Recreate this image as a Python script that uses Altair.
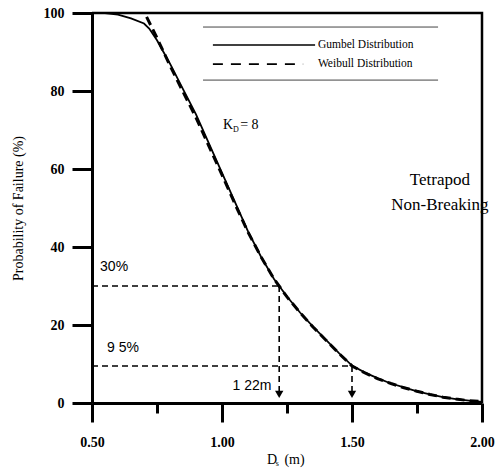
import altair as alt
import pandas as pd

# Curves
d_gumbel = [0.50, 0.55, 0.60, 0.65, 0.70, 0.72, 0.75, 0.80, 0.85, 0.90, 0.95, 1.00, 1.05, 1.10, 1.15,
            1.20, 1.22, 1.25, 1.30, 1.35, 1.40, 1.45, 1.50, 1.55, 1.60, 1.65, 1.70, 1.75, 1.80,
            1.85, 1.90, 1.95, 2.00]
p_gumbel = [100, 100, 99.6, 98.6, 97.3, 96.0, 93.0, 87.0, 80.5, 74.0, 66.5, 59.0, 51.5, 44.0, 37.5,
            31.8, 30.0, 27.3, 23.2, 19.6, 16.2, 12.8, 9.6, 7.8, 6.3, 5.0, 4.0, 3.0, 2.2,
            1.5, 1.0, 0.6, 0.3]
d_weibull = [0.71, 0.75, 0.80, 0.85, 0.90, 0.95, 1.00, 1.05, 1.10, 1.15, 1.20, 1.25, 1.30, 1.35,
             1.40, 1.45, 1.50, 1.55, 1.60, 1.65, 1.70, 1.75, 1.80, 1.85, 1.90, 1.95, 2.00]
p_weibull = [99.0, 93.6, 86.5, 79.8, 73.2, 65.8, 58.5, 51.0, 43.8, 37.5, 31.8, 27.2, 23.2, 19.5,
             16.1, 12.7, 9.5, 7.7, 6.2, 5.0, 3.9, 3.0, 2.2, 1.5, 1.0, 0.6, 0.4]

# Frame path (top and right border)
frame_d = [0.5, 2.0, 2.0]
frame_p = [100, 100, 0]

# Guides
guide_p = [30, 9.5]
guide_d = [1.22, 1.50]
guide_labels = ["30%", "9 5%"]
x_label = "1 22m"

# Axes
x_ticks = [0.5, 0.75, 1.0, 1.25, 1.5, 1.75, 2.0]
y_ticks = [0, 10, 20, 30, 40, 50, 60, 70, 80, 90, 100]

legend_names = ["Gumbel Distribution", "Weibull Distribution"]

XS = alt.Scale(domain=[0.5, 2.0], nice=False, zero=False)
YS = alt.Scale(domain=[0, 100], nice=False)

serif = "Liberation Serif"
sans = "Liberation Sans"

gdf = pd.DataFrame({"d": d_gumbel, "p": p_gumbel})
wdf = pd.DataFrame({"d": d_weibull, "p": p_weibull})
fdf = pd.DataFrame({"d": frame_d, "p": frame_p, "o": [0, 1, 2]})

x_axis = alt.Axis(values=x_ticks, format=".2f",
                  labelExpr="datum.value % 0.5 == 0 ? datum.label : ''",
                  tickSize={"condition": {"test": "datum.value % 0.5 == 0", "value": 19}, "value": 10},
                  labelPadding=13, labelFont=serif, labelFontWeight="bold", labelFontSize=14,
                  labelColor="black", tickColor="black", tickWidth=3, domainColor="black",
                  domainWidth=3, grid=False, title=None, labelFlush=False)
y_axis = alt.Axis(values=y_ticks, labelExpr="datum.value % 20 == 0 ? datum.label : ''",
                  tickSize=20, tickWidth=3, tickColor="black", domainColor="black", domainWidth=3,
                  labelPadding=8, labelFont=serif, labelFontWeight="bold", labelFontSize=14,
                  labelColor="black", grid=False, title="Probability of Failure (%)",
                  titleFont=serif, titleFontWeight="normal", titleFontSize=14, titleColor="black",
                  titlePadding=18, labelFlush=False)

gumbel = alt.Chart(gdf).mark_line(color="black", strokeWidth=1.8).encode(
    x=alt.X("d:Q", scale=XS, axis=x_axis), y=alt.Y("p:Q", scale=YS, axis=y_axis))
weibull = alt.Chart(wdf).mark_line(color="black", strokeWidth=3, strokeDash=[9, 5]).encode(
    x=alt.X("d:Q", scale=XS), y=alt.Y("p:Q", scale=YS))
frame = alt.Chart(fdf).mark_line(color="black", strokeWidth=2.5).encode(
    x=alt.X("d:Q", scale=XS), y=alt.Y("p:Q", scale=YS), order="o:Q")

# Guide lines
hdf = pd.DataFrame({"x0": [0.5, 0.5], "x1": guide_d, "p": guide_p})
hlines = alt.Chart(hdf).mark_rule(color="black", strokeWidth=1.6, strokeDash=[6, 4]).encode(
    x=alt.X("x0:Q", scale=XS), x2="x1:Q", y=alt.Y("p:Q", scale=YS))
vdf = pd.DataFrame({"d": guide_d, "p0": guide_p, "p1": [2.0, 2.0]})
vlines = alt.Chart(vdf).mark_rule(color="black", strokeWidth=1.6, strokeDash=[6, 4]).encode(
    x=alt.X("d:Q", scale=XS), y=alt.Y("p0:Q", scale=YS), y2="p1:Q")
adf = pd.DataFrame({"d": guide_d, "p": [2.2, 2.2]})
arrows = alt.Chart(adf).mark_point(shape="triangle-down", filled=True, color="black",
                                    size=70, opacity=1).encode(
    x=alt.X("d:Q", scale=XS), y=alt.Y("p:Q", scale=YS))

gl_df = pd.DataFrame({"d": [0.531, 0.558], "p": [33.0, 12.2], "t": guide_labels})
glabels = alt.Chart(gl_df).mark_text(font=sans, fontSize=14, align="left", baseline="bottom",
                                      fill="black").encode(
    x=alt.X("d:Q", scale=XS), y=alt.Y("p:Q", scale=YS), text="t:N")
xl_df = pd.DataFrame({"d": [1.19], "p": [2.6], "t": [x_label]})
xlabel = alt.Chart(xl_df).mark_text(font=sans, fontSize=14, align="right", baseline="bottom",
                                     fill="black").encode(
    x=alt.X("d:Q", scale=XS), y=alt.Y("p:Q", scale=YS), text="t:N")

# Legend box
lb_df = pd.DataFrame({"x0": [0.927, 0.927], "x1": [1.831, 1.831], "p": [96.4, 82.8]})
lbox = alt.Chart(lb_df).mark_rule(color="#444444", strokeWidth=1).encode(
    x=alt.X("x0:Q", scale=XS), x2="x1:Q", y=alt.Y("p:Q", scale=YS))
ls_df = pd.DataFrame({"x0": [0.965], "x1": [1.358], "p": [91.8]})
lsolid = alt.Chart(ls_df).mark_rule(color="black", strokeWidth=1.5).encode(
    x=alt.X("x0:Q", scale=XS), x2="x1:Q", y=alt.Y("p:Q", scale=YS))
ld_df = pd.DataFrame({"x0": [0.965], "x1": [1.312], "p": [86.9]})
ldash = alt.Chart(ld_df).mark_rule(color="black", strokeWidth=1.8, strokeDash=[10, 8]).encode(
    x=alt.X("x0:Q", scale=XS), x2="x1:Q", y=alt.Y("p:Q", scale=YS))
lt_df = pd.DataFrame({"d": [1.369, 1.369], "p": [91.8, 86.9], "t": legend_names})
ltext = alt.Chart(lt_df).mark_text(font=serif, fontSize=11.5, align="left", baseline="middle",
                                    fill="black").encode(
    x=alt.X("d:Q", scale=XS), y=alt.Y("p:Q", scale=YS), text="t:N")

# K_D = 8
kd_df = pd.DataFrame({"d": [1.004, 1.070], "p": [71.3, 71.3], "t": ["K", "= 8"]})
kd = alt.Chart(kd_df).mark_text(font=serif, fontSize=14, align="left", baseline="middle",
                                 fill="black").encode(
    x=alt.X("d:Q", scale=XS), y=alt.Y("p:Q", scale=YS), text="t:N")
kds_df = pd.DataFrame({"d": [1.042], "p": [70.0], "t": ["D"]})
kds = alt.Chart(kds_df).mark_text(font=serif, fontSize=8, align="left", baseline="middle",
                                   fill="black").encode(
    x=alt.X("d:Q", scale=XS), y=alt.Y("p:Q", scale=YS), text="t:N")

# Tetrapod label
tp_df = pd.DataFrame({"d": [1.838, 1.838], "p": [57.2, 50.8], "t": ["Tetrapod", "Non-Breaking"]})
tp = alt.Chart(tp_df).mark_text(font=serif, fontSize=17, align="center", baseline="middle",
                                 fill="black").encode(
    x=alt.X("d:Q", scale=XS), y=alt.Y("p:Q", scale=YS), text="t:N")

# X title D_s (m)
xt_df = pd.DataFrame({"d": [1.173, 1.240], "p": [-14.6, -14.6], "t": ["D", "(m)"]})
xt = alt.Chart(xt_df).mark_text(font=serif, fontSize=14, align="left", baseline="middle",
                                 fill="black").encode(
    x=alt.X("d:Q", scale=XS), y=alt.Y("p:Q", scale=YS), text="t:N")
xts_df = pd.DataFrame({"d": [1.207], "p": [-15.6], "t": ["s"]})
xts = alt.Chart(xts_df).mark_text(font=serif, fontSize=8, align="left", baseline="middle",
                                   fill="black").encode(
    x=alt.X("d:Q", scale=XS), y=alt.Y("p:Q", scale=YS), text="t:N")

chart = alt.layer(gumbel, frame, weibull, hlines, vlines, arrows, glabels, xlabel,
                  lbox, lsolid, ldash, ltext, kd, kds, tp, xt, xts).properties(
    width=390, height=390, autosize="none",
    padding={"left": 92, "top": 13, "right": 21, "bottom": 67},
    background="white",
).configure_view(stroke=None)

chart.save("out.html", embed_options={"renderer": "svg", "actions": False})
